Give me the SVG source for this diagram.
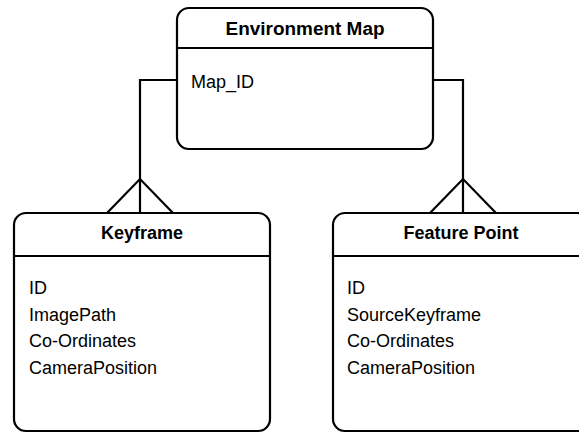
<svg xmlns="http://www.w3.org/2000/svg" width="579" height="433" viewBox="0 0 579 433">
<style>
.box{fill:#fff;stroke:#000;stroke-width:2.2}
.sep{stroke:#000;stroke-width:2.2}
.title{font-family:"Liberation Sans",Arial,sans-serif;font-weight:bold;font-size:18px;fill:#000;text-anchor:middle}
.attr{font-family:"Liberation Sans",Arial,sans-serif;font-size:18px;fill:#000}
.conn{fill:none;stroke:#000;stroke-width:2.2}
</style>
<rect width="579" height="433" fill="#fff"/>
<g id="connectors">
<path class="conn" d="M177,80 H140 V213"/>
<path class="conn" d="M107,213 L140,179 L173,213"/>
<path class="conn" d="M433,80 H463 V213"/>
<path class="conn" d="M430,213 L463,179 L496,213"/>
</g>
<g id="environment-map">
<rect class="box" x="177" y="8" width="256" height="141" rx="12"/>
<line class="sep" x1="177" y1="48" x2="433" y2="48"/>
<text class="title" x="305" y="35" textLength="159" lengthAdjust="spacingAndGlyphs">Environment Map</text>
<text class="attr" x="191" y="88">Map_ID</text>
</g>
<g id="keyframe">
<rect class="box" x="14" y="213" width="256" height="218" rx="12"/>
<line class="sep" x1="14" y1="256" x2="270" y2="256"/>
<text class="title" x="142" y="239">Keyframe</text>
<text class="attr" x="29" y="294">ID</text>
<text class="attr" x="29" y="320.5">ImagePath</text>
<text class="attr" x="29" y="347">Co-Ordinates</text>
<text class="attr" x="29" y="374">CameraPosition</text>
</g>
<g id="feature-point">
<rect class="box" x="333" y="213" width="256" height="218" rx="12"/>
<line class="sep" x1="333" y1="256" x2="589" y2="256"/>
<text class="title" x="461" y="239">Feature Point</text>
<text class="attr" x="347" y="294">ID</text>
<text class="attr" x="347" y="320.5">SourceKeyframe</text>
<text class="attr" x="347" y="347">Co-Ordinates</text>
<text class="attr" x="347" y="374">CameraPosition</text>
</g>
</svg>
